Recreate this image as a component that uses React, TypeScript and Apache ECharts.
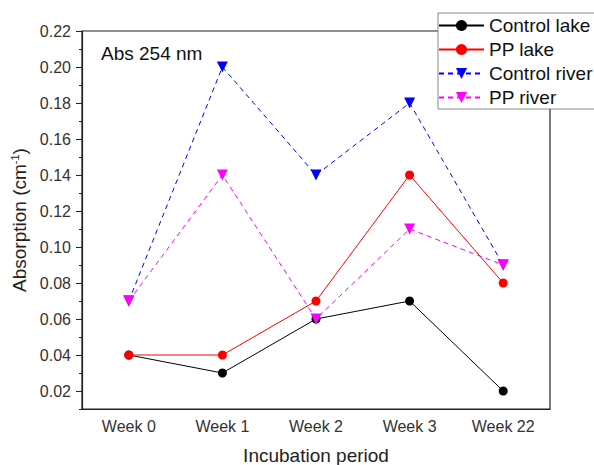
import React, { useEffect, useRef } from "react";
import * as echarts from "echarts";

const categories = ["Week 0", "Week 1", "Week 2", "Week 3", "Week 22"];
const boundaries = ["", "", "", "", ""];
const yTickValues = [0.02, 0.04, 0.06, 0.08, 0.1, 0.12, 0.14, 0.16, 0.18, 0.2, 0.22];
const controlLake = [0.04, 0.03, 0.06, 0.07, 0.02];
const ppLake = [0.04, 0.04, 0.07, 0.14, 0.08];
const controlRiver = [0.07, 0.2, 0.14, 0.18, 0.09];
const ppRiver = [0.07, 0.14, 0.06, 0.11, 0.09];

const FONT = "Arial, 'Liberation Sans', sans-serif";
const TRI_DOWN = "path://M0,0 L10,0 L5,9 Z";

export default function App() {
  const ref = useRef<HTMLDivElement>(null);
  useEffect(() => {
    if (!ref.current) return;
    const chart = echarts.init(ref.current, undefined, { renderer: "svg" });
    const mk = (name: string, data: number[], color: string, symbol: string, dashed: boolean) => ({
      name,
      type: "line",
      data,
      symbol,
      symbolSize: symbol === "circle" ? 9 : 11,
      lineStyle: { color, width: 1, type: dashed ? [5, 4] : "solid" },
      itemStyle: { color },
      emphasis: { disabled: true },
    });
    chart.setOption({
      animation: false,
      backgroundColor: "#fff",
      textStyle: { fontFamily: FONT },
      grid: {
        left: 82,
        right: 44,
        top: 31,
        bottom: 56,
        show: true,
        borderColor: "#222",
        borderWidth: 1.2,
        outerBoundsMode: "none",
        containLabel: false,
      },
      graphic: [
        { type: "text", left: 101, top: 44, style: { text: "Abs 254 nm", font: `19px ${FONT}`, fill: "#111" } },
      ],
      legend: {
        left: 438,
        top: 13,
        orient: "vertical",
        backgroundColor: "#fff",
        borderColor: "#888",
        borderWidth: 1,
        padding: [3, 40, 2, 0],
        itemWidth: 45,
        itemHeight: 14,
        itemGap: 5,
        textStyle: { fontSize: 19, lineHeight: 19, color: "#111", fontFamily: FONT },
        data: ["Control lake", "PP lake", "Control river", "PP river"],
      },
      xAxis: [
        {
          type: "category",
          data: categories,
          boundaryGap: true,
          axisLine: { lineStyle: { color: "#222", width: 1.2 } },
          axisTick: { alignWithLabel: true, length: 6, inside: false, lineStyle: { color: "#222" } },
          axisLabel: { fontSize: 16, color: "#333", margin: 9, fontFamily: FONT },
          name: "Incubation period",
          nameLocation: "middle",
          nameGap: 37,
          nameTextStyle: { fontSize: 19, color: "#222", fontFamily: FONT },
          splitLine: { show: false },
        },
        {
          type: "category",
          data: boundaries,
          position: "bottom",
          boundaryGap: true,
          axisLine: { show: false },
          axisTick: { length: 3, lineStyle: { color: "#222" } },
          axisLabel: { show: false },
          splitLine: { show: false },
        },
      ],
      yAxis: [
        {
          type: "value",
          min: 0.01,
          max: 0.22,
          interval: 0.01,
          axisLine: { show: true, lineStyle: { color: "#222", width: 1.2 } },
          axisTick: { show: true, length: 3, lineStyle: { color: "#222" } },
          axisLabel: {
            fontSize: 16,
            color: "#333",
            margin: 11,
            fontFamily: FONT,
            customValues: yTickValues,
            formatter: (v: number) => v.toFixed(2),
          },
          splitLine: { show: false },
          name: "Absorption (cm{sup|-1})",
          nameLocation: "middle",
          nameGap: 47,
          nameTextStyle: {
            fontSize: 19,
            color: "#222",
            fontFamily: FONT,
            rich: { sup: { fontSize: 11, verticalAlign: "top", padding: [0, 0, 9, 0], fontFamily: FONT, color: "#222" } },
          },
        },
        {
          type: "value",
          position: "left",
          min: 0.01,
          max: 0.22,
          interval: 0.01,
          axisLine: { show: false },
          axisTick: { show: true, length: 6, customValues: yTickValues, lineStyle: { color: "#222" } },
          axisLabel: { show: false },
          splitLine: { show: false },
        },
      ],
      series: [
        mk("Control lake", controlLake, "#000000", "circle", false),
        mk("PP lake", ppLake, "#ff0000", "circle", false),
        mk("Control river", controlRiver, "#0000ff", TRI_DOWN, true),
        mk("PP river", ppRiver, "#ff00ff", TRI_DOWN, true),
      ],
    });
    return () => chart.dispose();
  }, []);
  return <div ref={ref} style={{ position: "absolute", left: 0, top: 0, width: 594, height: 465 }} />;
}
